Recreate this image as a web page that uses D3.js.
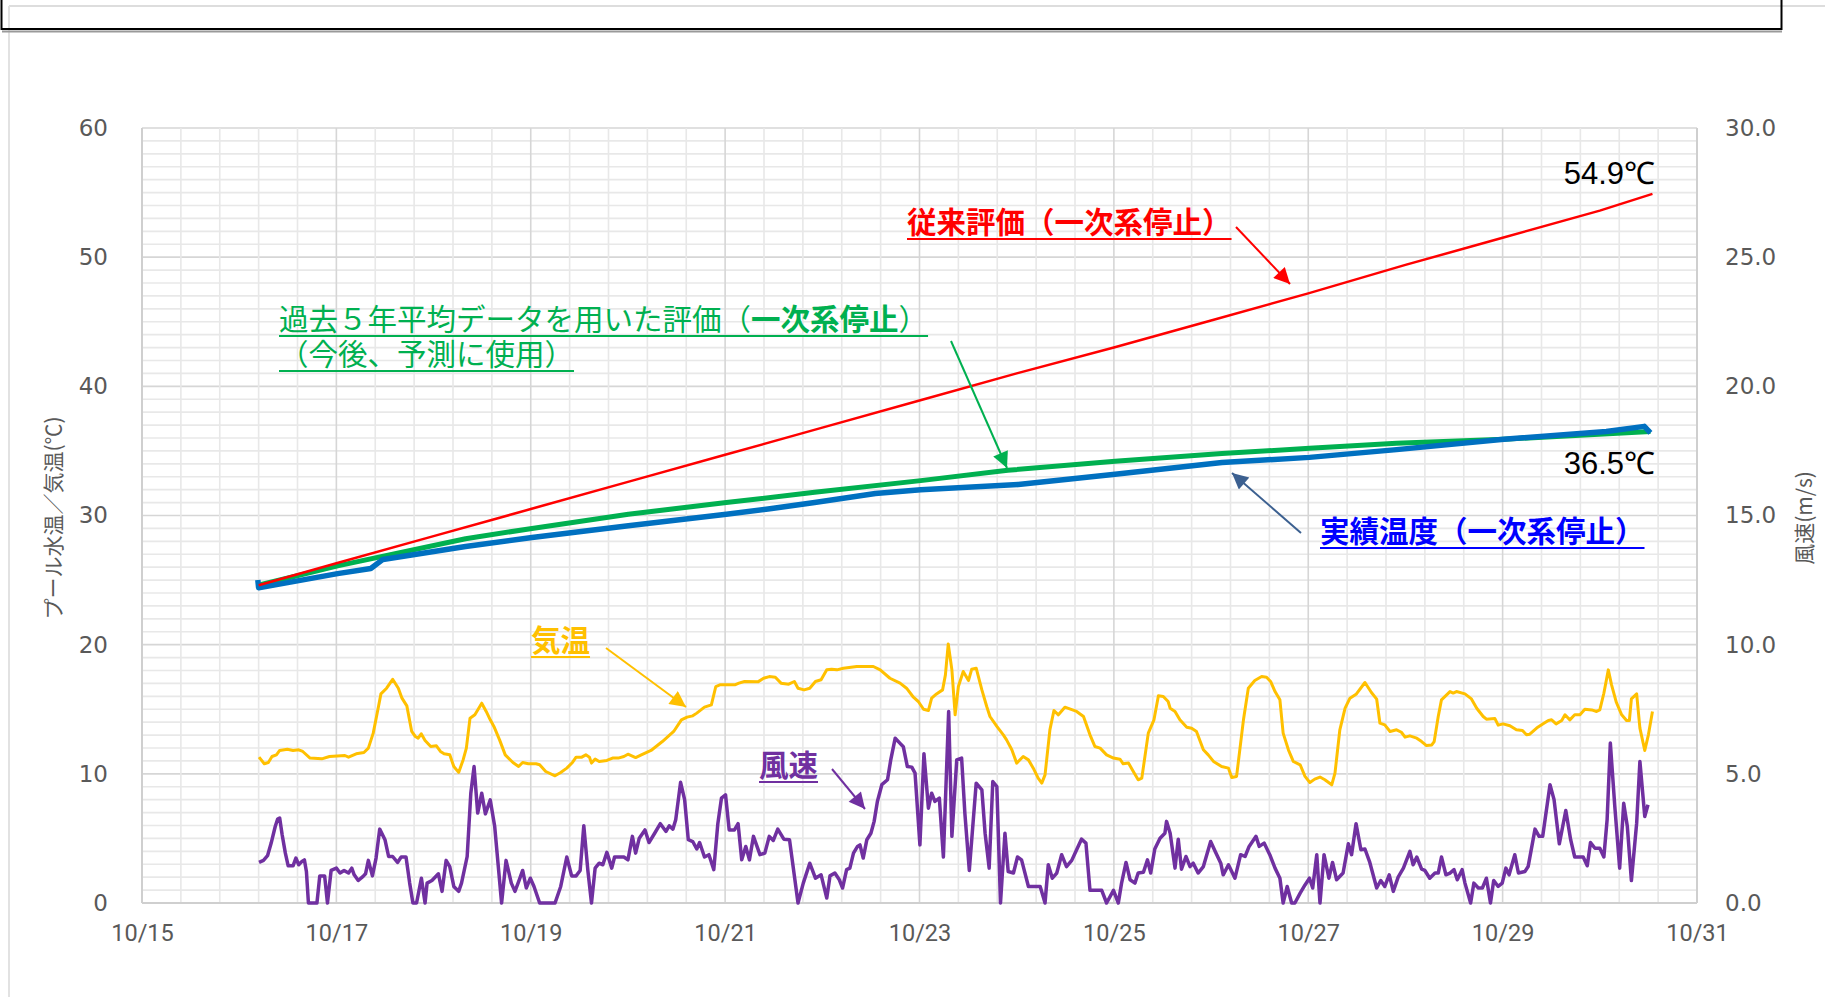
<!DOCTYPE html>
<html>
<head>
<meta charset="utf-8">
<script src="https://cdn.jsdelivr.net/npm/d3@7"></script>
<style>
  body { margin: 0; background: #fff; }
  svg { display: block; }
</style>
</head>
<body>
<div id="chart"></div>
<script>
// hours counted from 10/15 0:00
const startDate = new Date(2020, 9, 15);

const leftTicks = [0, 10, 20, 30, 40, 50, 60];
const rightTicks = [0, 5, 10, 15, 20, 25, 30];
const dateTicks = ["10/15", "10/17", "10/19", "10/21", "10/23", "10/25", "10/27", "10/29", "10/31"];

// 従来評価（一次系停止）
const conventional = [[28.8,24.6],[48,26.3],[72,28.4],[96,30.5],[120,32.6],[144,34.7],[168,36.8],[192,38.9],
  [216,41.0],[240,43.0],[264,45.1],[288,47.2],[312,49.4],[336,51.5],[360,53.6],[373,54.9]];

// 過去５年平均データを用いた評価
const fiveYear = [[28.7,24.6],[48.3,26.1],[79.9,28.2],[96.3,29.0],[120.1,30.1],[144.3,31.0],[166.1,31.8],
  [192.3,32.7],[213.8,33.5],[240.3,34.2],[266.7,34.8],[288.3,35.2],[309.8,35.6],[336.3,35.9],[372.5,36.5]];

// 実績温度（一次系停止）
const actual = [[28.6,25.0],[28.8,24.4],[48.3,25.5],[56.5,25.9],[59.5,26.6],[79.9,27.6],[96.3,28.3],
  [120.1,29.2],[144.3,30.1],[154.6,30.5],[166.1,31.0],[181.1,31.7],[192.3,32.0],[216.4,32.4],[240.3,33.2],
  [266.7,34.1],[288.3,34.5],[309.8,35.1],[336.3,35.9],[361.6,36.5],[371,36.9],[372.5,36.4]];

// 気温
const airTemp = [[28.9,11.29],[30.2,10.78],[31.2,10.88],[32.1,11.34],[33.2,11.47],[34.0,11.81],[35.9,11.91],
  [37.3,11.81],[38.7,11.86],[39.7,11.73],[41.5,11.22],[44.4,11.16],[46.3,11.34],[50.1,11.42],[51.0,11.29],
  [52.9,11.55],[54.8,11.65],[55.9,11.99],[57.1,13.15],[58.4,15.21],[59.0,16.19],[60.4,16.63],[61.9,17.32],
  [63.3,16.63],[64.2,15.86],[65.4,15.26],[66.6,13.28],[67.5,12.89],[68.2,12.76],[68.95,13.10],[69.9,12.58],
  [71.3,12.12],[72.7,12.17],[73.7,11.73],[74.6,11.55],[76.0,11.47],[77.0,10.57],[78.2,10.11],[79.3,11.08],
  [80.1,11.99],[81.0,14.31],[82.2,14.57],[83.9,15.47],[85.0,14.83],[86.0,14.18],[86.9,13.67],[88.3,12.63],
  [89.7,11.47],[91.6,10.88],[93.0,10.57],[94.0,10.88],[95.4,10.78],[97.3,10.78],[98.2,10.70],[99.7,10.18],
  [102.0,9.85],[103.4,10.10],[104.9,10.44],[106.3,10.88],[107.2,11.29],[108.6,11.29],[109.6,11.47],
  [110.5,11.29],[111.0,10.83],[111.9,11.14],[112.9,10.96],[114.8,11.04],[116.2,11.22],[117.6,11.22],
  [119.0,11.34],[120.0,11.52],[121.9,11.26],[123.3,11.47],[125.7,11.81],[128.5,12.50],[131.3,13.28],
  [133.2,14.18],[134.6,14.39],[136.0,14.49],[137.0,14.70],[138.9,15.16],[140.6,15.34],[141.7,16.76],
  [142.7,16.89],[146.4,16.89],[147.4,17.02],[148.8,17.15],[152.1,17.12],[153.5,17.40],[154.9,17.53],
  [156.4,17.48],[157.8,17.02],[159.7,16.94],[161.1,17.15],[162.0,16.63],[163.5,16.50],[164.9,16.63],
  [166.3,17.15],[167.7,17.28],[169.1,18.05],[170.3,18.10],[171.6,18.05],[173.2,18.18],[176.5,18.31],
  [179.0,18.31],[180.6,18.31],[182.3,18.05],[184.7,17.40],[187.2,17.02],[188.8,16.63],[190.5,15.93],
  [191.7,15.60],[193.0,15.00],[194.2,14.90],[195.0,15.86],[196.2,16.19],[197.7,16.50],[198.4,17.66],
  [199.1,20.06],[200.0,18.05],[200.8,14.57],[201.6,16.76],[202.8,17.92],[204.1,17.22],[204.9,18.10],
  [206.0,18.18],[207.4,16.50],[208.6,15.21],[209.4,14.44],[211.1,13.67],[212.7,13.02],[213.5,12.63],
  [214.8,11.86],[216.0,10.83],[217.6,11.34],[218.9,11.08],[220.1,10.44],[221.3,9.67],[222.2,9.28],
  [223.0,9.92],[224.2,13.40],[225.2,14.90],[226.3,14.57],[227.9,15.16],[230.8,14.83],[232.5,14.44],
  [234.1,13.02],[235.3,12.12],[236.6,11.99],[238.2,11.47],[239.9,11.22],[241.5,11.13],[242.3,10.78],
  [243.6,10.83],[244.8,10.18],[246.0,9.54],[246.9,9.67],[248.5,13.15],[249.9,14.18],[251.0,16.04],
  [252.2,15.99],[253.4,15.60],[253.9,15.08],[255.1,14.83],[256.3,14.18],[258.0,13.61],[259.2,13.53],
  [260.4,13.28],[262.1,11.86],[263.3,11.47],[264.6,10.96],[266.6,10.57],[268.3,10.44],[269.1,9.72],
  [270.3,9.80],[272.0,14.18],[273.2,16.63],[274.8,17.22],[276.5,17.53],[277.7,17.48],[278.7,17.15],
  [279.8,16.37],[281.0,15.73],[281.8,13.15],[283.1,11.86],[284.3,10.96],[286.0,10.70],[287.2,9.80],
  [288.4,9.33],[289.6,9.59],[290.9,9.75],[292.1,9.54],[293.8,9.15],[294.6,10.05],[295.8,13.41],
  [297.1,15.08],[298.3,15.86],[299.9,16.19],[302.0,17.07],[303.6,16.30],[304.9,15.78],[305.7,13.92],
  [306.9,13.79],[308.2,13.28],[309.8,13.41],[311.0,13.22],[311.9,12.84],[313.1,12.94],[314.8,12.76],
  [316.0,12.50],[317.2,12.19],[318.5,12.24],[319.1,12.50],[320.1,14.44],[320.9,15.73],[323.0,16.37],
  [323.8,16.25],[324.6,16.37],[326.7,16.19],[328.3,15.80],[329.6,15.08],[331.2,14.44],[332.0,14.23],
  [334.1,14.28],[334.9,13.77],[336.1,13.87],[337.8,13.72],[339.4,13.41],[340.9,13.36],[341.9,13.02],
  [342.7,13.07],[344.4,13.54],[346.0,13.87],[347.3,14.13],[348.1,14.18],[349.2,13.87],[350.6,14.13],
  [351.4,14.57],[352.6,14.18],[353.8,14.57],[355.1,14.57],[356.3,15.00],[358.0,14.95],[359.2,14.83],
  [360.0,14.95],[361.0,16.24],[362.1,18.05],[362.9,16.89],[364.1,15.52],[365.4,14.57],[366.6,14.13],
  [367.3,14.13],[367.8,15.80],[369.1,16.19],[369.9,13.54],[371.1,11.81],[372.0,13.02],[373.0,14.83]];

// 風速 (m/s)
const windSpeed = [[28.9,1.57],[30.0,1.65],[31.0,1.83],[31.9,2.32],[32.9,2.96],[33.5,3.25],[34.0,3.29],
  [34.6,2.65],[35.4,1.93],[36.1,1.44],[37.3,1.44],[38.0,1.74],[38.7,1.48],[39.5,1.61],[40.1,1.67],
  [40.6,1.22],[41.1,0],[43.2,0],[43.9,1.05],[45.1,1.05],[45.8,0],[46.7,1.26],[48.0,1.35],[48.9,1.16],
  [49.9,1.26],[51.0,1.16],[51.8,1.35],[52.4,1.09],[53.4,0.87],[54.6,1.03],[55.2,1.13],[55.9,1.65],
  [56.9,1.05],[57.8,1.74],[58.7,2.86],[60.0,2.45],[60.9,1.80],[61.9,1.80],[63.1,1.57],[64.0,1.78],
  [65.2,1.78],[66.1,0.77],[66.9,0],[67.8,0],[69.0,0.96],[69.9,0],[70.4,0.77],[71.6,0.87],[73.2,1.13],
  [74.1,0.45],[75.1,1.65],[76.0,1.41],[77.0,0.64],[78.2,0.45],[78.9,0.77],[80.3,1.80],[81.2,4.25],
  [82.0,5.28],[82.9,3.48],[83.9,4.25],[84.8,3.45],[86.0,3.99],[87.1,2.96],[88.8,0],[89.9,1.65],
  [91.2,0.77],[92.1,0.45],[93.1,0.87],[94.0,1.26],[94.9,0.58],[95.9,0.96],[96.8,0.64],[98.2,0],
  [102.0,0],[103.4,0.64],[104.9,1.78],[106.1,1.05],[107.2,1.05],[108.2,1.26],[109.1,2.99],[110.1,1.26],
  [111.0,0],[111.9,1.35],[112.9,1.54],[113.8,1.48],[114.8,1.96],[116.0,1.35],[116.7,1.78],[119.0,1.78],
  [120.0,1.67],[121.1,2.58],[121.9,1.93],[122.8,2.51],[124.2,2.83],[125.2,2.34],[126.6,2.70],
  [128.0,3.07],[129.4,2.77],[130.2,2.99],[131.1,2.86],[131.8,3.22],[133.0,4.67],[134.0,4.00],
  [134.9,2.45],[136.0,2.38],[137.0,2.09],[137.7,2.34],[138.9,1.78],[140.0,1.87],[141.2,1.29],
  [142.2,3.07],[143.1,4.06],[144.1,4.19],[145.0,2.83],[146.3,2.83],[147.2,3.07],[148.1,1.67],
  [149.1,2.19],[150.0,1.67],[151.0,2.58],[152.6,1.87],[153.8,1.93],[154.9,2.58],[155.9,2.42],
  [157.0,2.86],[158.5,2.47],[159.9,2.45],[162.0,0],[163.3,0.77],[164.9,1.54],[166.3,0.96],[167.7,1.09],
  [169.1,0.19],[169.9,1.05],[171.1,1.16],[172.2,0.90],[173.0,0.58],[174.0,1.29],[174.8,1.35],
  [175.7,1.93],[176.7,2.19],[177.3,2.25],[178.1,1.74],[179.0,2.45],[180.0,2.70],[180.8,3.16],
  [181.6,3.93],[182.7,4.58],[184.1,4.77],[184.9,5.54],[186.0,6.38],[187.2,6.18],[188.0,6.05],
  [189.0,5.28],[190.1,5.26],[190.9,5.03],[192.1,2.25],[193.1,5.78],[194.2,3.67],[195.0,4.25],
  [195.8,3.93],[196.9,4.06],[197.9,1.78],[199.2,7.41],[200.0,2.58],[201.2,5.54],[202.4,5.61],
  [203.2,3.48],[204.3,1.26],[206.0,4.64],[207.4,4.38],[208.2,2.70],[209.2,1.35],[210.1,4.70],
  [211.1,4.51],[212.0,0],[213.1,2.70],[213.9,1.22],[215.2,1.16],[216.2,1.78],[217.2,1.67],[218.9,0.64],
  [220.1,0.64],[221.8,0.64],[223.0,0],[223.8,1.48],[224.8,0.96],[225.9,1.16],[227.1,1.87],[228.3,1.41],
  [229.6,1.65],[230.8,2.06],[232.0,2.47],[233.1,2.32],[234.1,0.49],[237.0,0.49],[238.2,0],[239.9,0.49],
  [241.1,0],[241.9,0.77],[243.0,1.57],[244.0,0.90],[245.2,0.77],[246.0,1.16],[247.3,1.19],[248.3,1.67],
  [249.1,1.16],[250.1,2.09],[251.4,2.51],[252.6,2.70],[253.0,3.16],[253.9,2.70],[255.1,1.35],
  [255.9,2.47],[256.7,1.31],[257.8,1.80],[258.8,1.41],[259.6,1.54],[260.8,1.16],[262.1,1.41],
  [263.9,2.38],[265.0,2.00],[266.4,1.54],[267.0,1.09],[268.3,1.48],[269.9,0.96],[271.3,1.87],
  [272.4,1.80],[273.4,2.19],[275.1,2.58],[275.9,2.19],[277.1,2.32],[278.5,1.87],[279.8,1.35],
  [281.0,0.96],[281.8,0],[282.8,0.64],[283.9,0],[284.7,0],[286.0,0.38],[287.2,0.70],[288.3,0.96],
  [289.1,0.58],[290.1,1.87],[290.9,0],[291.9,1.87],[293.1,0.96],[294.0,1.57],[295.0,0.90],[296.6,1.16],
  [297.9,2.29],[298.7,1.87],[299.8,3.07],[301.0,2.06],[302.0,2.09],[303.2,1.57],[304.9,0.58],
  [305.9,0.87],[306.9,0.64],[308.0,1.09],[309.0,0.45],[310.2,1.00],[311.5,1.35],[313.1,2.00],
  [313.9,1.48],[314.8,1.78],[316.0,1.31],[316.8,1.26],[318.0,0.96],[319.3,1.16],[320.1,1.16],
  [320.9,1.78],[322.0,1.09],[323.0,1.16],[324.0,1.29],[324.8,0.90],[326.0,1.29],[326.7,0.77],[328.1,0],
  [328.9,0.77],[330.0,0.58],[331.0,0.58],[332.0,0.96],[333.0,0],[333.8,0.87],[334.9,0.64],[335.9,0.77],
  [336.8,1.35],[337.6,1.09],[339.0,1.87],[339.9,1.16],[341.5,1.22],[342.3,1.41],[344.0,2.86],
  [345.0,2.58],[345.9,2.58],[347.7,4.58],[348.7,4.00],[350.0,2.29],[351.6,3.58],[352.8,2.45],
  [353.8,1.78],[355.9,1.78],[356.9,1.44],[357.7,2.34],[358.8,2.12],[360.0,2.12],[361.0,1.78],
  [361.8,3.22],[362.6,6.19],[363.7,3.74],[364.9,1.35],[365.9,3.86],[366.8,2.96],[367.8,0.87],
  [369.1,3.09],[369.9,5.48],[371.1,3.35],[371.9,3.80]];

function hourToDate(h) {
  return new Date(startDate.getTime() + h * 3600 * 1000);
}

function drawChart() {
  let width = 1825;
  let height = 997;
  let plot = {left: 142, right: 1697, top: 128, bottom: 903};

  let svg = d3.select("#chart")
    .append("svg")
    .attr("width", width)
    .attr("height", height);

  // page frame
  svg.append("line").attr("x1", 9).attr("x2", width).attr("y1", 6).attr("y2", 6)
    .attr("stroke", "#dddddd").attr("stroke-width", 2);
  svg.append("line").attr("x1", 9).attr("x2", 9).attr("y1", 6).attr("y2", height)
    .attr("stroke", "#e2e2e2").attr("stroke-width", 2);
  svg.append("rect").attr("x", 1.5).attr("y", -5).attr("width", 1780).attr("height", 34)
    .attr("fill", "none").attr("stroke", "#000").attr("stroke-width", 2);
  svg.append("line").attr("x1", 2).attr("x2", 1782).attr("y1", 31.5).attr("y2", 31.5)
    .attr("stroke", "#9a9a9a").attr("stroke-width", 2);

  let x = d3.scaleTime()
    .domain([startDate, hourToDate(16 * 24)])
    .range([plot.left, plot.right]);
  let yLeft = d3.scaleLinear().domain([0, 60]).range([plot.bottom, plot.top]);
  let yRight = d3.scaleLinear().domain([0, 30]).range([plot.bottom, plot.top]);

  // gridlines: minor every 1 unit / 0.4 day, major every 10 / 2 days
  let grid = svg.append("g").attr("class", "grid");
  d3.range(0, 61).forEach(function(v) {
    grid.append("line")
      .attr("x1", plot.left).attr("x2", plot.right)
      .attr("y1", yLeft(v)).attr("y2", yLeft(v))
      .attr("stroke", v % 10 === 0 ? "#d6d6d6" : "#e8e8e8")
      .attr("stroke-width", 1.6);
  });
  d3.range(0, 41).forEach(function(k) {
    let xv = x(hourToDate(k * 0.4 * 24));
    grid.append("line")
      .attr("x1", xv).attr("x2", xv)
      .attr("y1", plot.top).attr("y2", plot.bottom)
      .attr("stroke", k % 5 === 0 ? "#d6d6d6" : "#e8e8e8")
      .attr("stroke-width", 1.6);
  });

  // axis lines
  svg.append("line").attr("x1", plot.left).attr("x2", plot.left)
    .attr("y1", plot.top).attr("y2", plot.bottom).attr("stroke", "#cfcfcf").attr("stroke-width", 2);
  svg.append("line").attr("x1", plot.right).attr("x2", plot.right)
    .attr("y1", plot.top).attr("y2", plot.bottom).attr("stroke", "#cfcfcf").attr("stroke-width", 2);
  svg.append("line").attr("x1", plot.left).attr("x2", plot.right)
    .attr("y1", plot.bottom).attr("y2", plot.bottom).attr("stroke", "#cfcfcf").attr("stroke-width", 2);

  // axes
  let leftAxis = svg.append("g")
    .attr("transform", "translate(" + plot.left + ",0)")
    .call(d3.axisLeft(yLeft).tickValues(leftTicks).tickSize(0).tickPadding(34).tickFormat(d3.format("d")));
  let rightAxis = svg.append("g")
    .attr("transform", "translate(" + plot.right + ",0)")
    .call(d3.axisRight(yRight).tickValues(rightTicks).tickSize(0).tickPadding(28).tickFormat(d3.format(".1f")));
  let bottomAxis = svg.append("g")
    .attr("transform", "translate(0," + plot.bottom + ")")
    .call(d3.axisBottom(x).ticks(d3.timeDay.every(2)).tickSize(0).tickPadding(21)
      .tickFormat(function(d, i) { return dateTicks[i]; }));

  [leftAxis, rightAxis].forEach(function(a) {
    a.select(".domain").remove();
    a.selectAll("text")
      .attr("fill", "#595959")
      .style("font-family", "'DejaVu Sans', sans-serif")
      .style("font-size", "23px");
  });
  bottomAxis.select(".domain").remove();
  bottomAxis.selectAll("text")
    .attr("fill", "#595959")
    .style("font-family", "Roboto, sans-serif")
    .style("font-size", "23.5px");

  // axis titles
  svg.append("text")
    .attr("transform", "translate(61,518) rotate(-90)")
    .attr("text-anchor", "middle")
    .attr("fill", "#595959")
    .style("font-family", "'Noto Sans CJK JP', sans-serif")
    .style("font-size", "21px")
    .text("プール水温／気温(℃)");
  svg.append("text")
    .attr("transform", "translate(1812,518) rotate(-90)")
    .attr("text-anchor", "middle")
    .attr("fill", "#595959")
    .style("font-family", "'Noto Sans CJK JP', sans-serif")
    .style("font-size", "21px")
    .text("風速(m/s)");

  // series
  let lineLeft = d3.line()
    .x(function(d) { return x(hourToDate(d[0])); })
    .y(function(d) { return yLeft(d[1]); });
  let lineRight = d3.line()
    .x(function(d) { return x(hourToDate(d[0])); })
    .y(function(d) { return yRight(d[1]); });

  svg.append("path").datum(airTemp).attr("d", lineLeft)
    .attr("fill", "none").attr("stroke", "#FFC000").attr("stroke-width", 3).attr("stroke-linejoin", "round");
  svg.append("path").datum(windSpeed).attr("d", lineRight)
    .attr("fill", "none").attr("stroke", "#7030A0").attr("stroke-width", 3.5).attr("stroke-linejoin", "round");
  svg.append("path").datum(fiveYear).attr("d", lineLeft)
    .attr("fill", "none").attr("stroke", "#00B050").attr("stroke-width", 5).attr("stroke-linejoin", "round");
  svg.append("path").datum(actual).attr("d", lineLeft)
    .attr("fill", "none").attr("stroke", "#0070C0").attr("stroke-width", 5.5).attr("stroke-linejoin", "round");
  svg.append("path").datum(conventional).attr("d", lineLeft)
    .attr("fill", "none").attr("stroke", "#FF0000").attr("stroke-width", 2.5).attr("stroke-linejoin", "round");

  // arrowheads
  let defs = svg.append("defs");
  let arrowColors = {red: "#FF0000", green: "#00B050", navy: "#3C6090", gold: "#FFC000", purple: "#7030A0"};
  Object.keys(arrowColors).forEach(function(k) {
    defs.append("marker")
      .attr("id", "arrow-" + k)
      .attr("viewBox", "0 0 10 10")
      .attr("refX", 10).attr("refY", 5)
      .attr("markerUnits", "userSpaceOnUse")
      .attr("markerWidth", 20).attr("markerHeight", 16)
      .attr("orient", "auto")
      .append("path").attr("d", "M0,0 L10,5 L0,10 z").attr("fill", arrowColors[k]);
  });

  function arrow(x1, y1, x2, y2, key) {
    svg.append("line")
      .attr("x1", x1).attr("y1", y1).attr("x2", x2).attr("y2", y2)
      .attr("stroke", arrowColors[key]).attr("stroke-width", 2)
      .attr("marker-end", "url(#arrow-" + key + ")");
  }

  // underlined callout text; each line = [parts, extra underline length]
  function callout(tx, ty, lines, color, lineGap) {
    let t = svg.append("text")
      .attr("fill", color)
      .style("font-family", "'Noto Sans CJK JP', sans-serif")
      .style("font-size", "29.5px");
    lines.forEach(function(line, li) {
      let spans = [];
      line[0].forEach(function(p, pi) {
        let s = t.append("tspan").attr("font-weight", p[1] ? "bold" : "normal").text(p[0]);
        if (pi === 0) s.attr("x", tx).attr("y", ty + li * lineGap);
        spans.push(s);
      });
      let w = d3.sum(spans, function(s) { return s.node().getComputedTextLength(); });
      svg.append("line")
        .attr("x1", tx).attr("x2", tx + w + line[1])
        .attr("y1", ty + li * lineGap + 6).attr("y2", ty + li * lineGap + 6)
        .attr("stroke", color).attr("stroke-width", 2);
    });
  }

  callout(907, 233, [[[["従来評価（一次系停止）", true]], 0]], "#FF0000", 0);
  arrow(1236, 227, 1290, 284, "red");

  callout(279, 330, [
    [[["過去５年平均データを用いた評価（", false], ["一次系停止", true], ["）", false]], 0],
    [[["（今後、予測に使用）", false]], 0]
  ], "#00B050", 35);
  arrow(951, 341, 1007, 468, "green");

  callout(1320, 542, [[[["実績温度（一次系停止）", true]], 0]], "#0000FF", 0);
  arrow(1301, 533, 1232, 473, "navy");

  callout(531, 651, [[[["気温", true]], 0]], "#FFC000", 0);
  arrow(606, 648, 686, 707, "gold");

  callout(759, 776, [[[["風速", true]], 0]], "#7030A0", 0);
  arrow(832, 769, 865, 809, "purple");

  // end values
  svg.append("text")
    .attr("x", 1655).attr("y", 184)
    .attr("text-anchor", "end")
    .style("font-family", "'Liberation Sans', Arial, sans-serif")
    .style("font-size", "31px")
    .text("54.9℃");
  svg.append("text")
    .attr("x", 1655).attr("y", 474)
    .attr("text-anchor", "end")
    .style("font-family", "'Liberation Sans', Arial, sans-serif")
    .style("font-size", "31px")
    .text("36.5℃");
}

drawChart();
</script>
</body>
</html>
